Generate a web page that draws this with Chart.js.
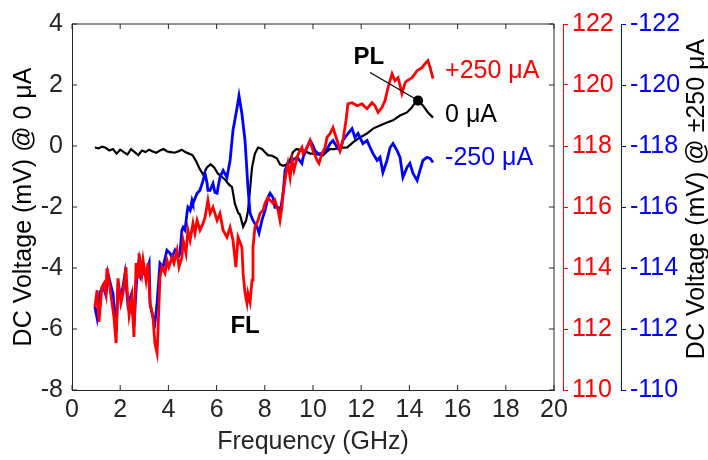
<!DOCTYPE html>
<html>
<head>
<meta charset="utf-8">
<script src="https://cdn.jsdelivr.net/npm/chart.js@4/dist/chart.umd.min.js"></script>
<style>
html,body{margin:0;padding:0;background:#fff;}
canvas{display:block;}
</style>
</head>
<body>
<canvas id="c" width="708" height="460" style="width:708px;height:460px"></canvas>
<script>
// ---- DATA ----
const xTicks = [0,2,4,6,8,10,12,14,16,18,20];
const leftTicks = [-8,-6,-4,-2,0,2,4];
const redTicks = [110,112,114,116,118,120,122];
const blueTicks = [-122,-120,-118,-116,-114,-112,-110];

// 0 uA (left axis, mV)
const blackFreq = [0.95,1.1,1.25,1.4,1.55,1.7,1.85,2.0,2.15,2.3,2.45,2.6,2.75,2.9,3.05,3.2,3.35,3.5,3.65,3.8,3.95,4.1,4.25,4.4,4.55,4.7,4.85,5.0,5.15,5.3,5.45,5.6,5.75,5.9,6.05,6.2,6.35,6.5,6.64,6.76,6.9,6.97,7.1,7.22,7.3,7.39,7.47,7.59,7.72,7.88,8.0,8.13,8.3,8.5,8.63,8.76,8.88,9.05,9.17,9.3,9.46,9.6,9.88,10.0,10.2,10.41,10.55,10.7,10.9,11.12,11.41,11.66,11.95,12.24,12.49,12.78,13.07,13.32,13.61,13.9,14.1,14.23,14.36,14.56,14.77,14.98];
const blackVolt = [-0.05,-0.08,-0.02,-0.06,-0.15,-0.1,-0.25,-0.12,-0.2,-0.28,-0.1,-0.2,-0.3,-0.15,-0.2,-0.12,-0.18,-0.22,-0.15,-0.1,-0.18,-0.2,-0.22,-0.18,-0.12,-0.2,-0.25,-0.3,-0.5,-0.75,-0.95,-0.7,-0.6,-0.7,-0.9,-1.0,-1.1,-1.25,-1.35,-1.9,-2.2,-2.25,-2.65,-2.45,-2.15,-1.4,-0.7,-0.25,-0.05,-0.1,-0.2,-0.3,-0.32,-0.4,-0.6,-0.65,-0.62,-0.45,-0.2,-0.1,-0.12,-0.15,-0.25,-0.25,-0.28,-0.31,-0.2,-0.1,-0.1,-0.05,-0.05,0.12,0.28,0.41,0.57,0.67,0.77,0.84,1.0,1.1,1.26,1.42,1.49,1.33,1.1,0.93];

// +250 uA (red axis, mV)
const redFreq = [0.95,1.04,1.12,1.24,1.33,1.41,1.45,1.54,1.66,1.74,1.83,1.91,2.03,2.12,2.24,2.28,2.37,2.49,2.57,2.66,2.74,2.78,2.9,2.95,3.07,3.15,3.24,3.36,3.44,3.53,3.57,3.65,3.73,3.86,3.94,4.02,4.15,4.23,4.36,4.44,4.56,4.61,4.73,4.81,4.9,5.02,5.1,5.19,5.31,5.44,5.52,5.64,5.73,5.85,6.02,6.14,6.27,6.43,6.56,6.68,6.8,6.89,7.05,7.1,7.18,7.26,7.3,7.39,7.47,7.51,7.59,7.72,7.8,7.93,8.01,8.13,8.22,8.34,8.42,8.55,8.63,8.71,8.76,8.88,8.96,9.05,9.13,9.21,9.34,9.42,9.54,9.59,9.75,9.88,10.0,10.17,10.25,10.37,10.5,10.58,10.71,10.83,11.0,11.12,11.24,11.37,11.45,11.62,11.83,12.03,12.24,12.45,12.57,12.7,12.86,12.99,13.11,13.28,13.4,13.53,13.69,13.82,13.9,14.11,14.32,14.52,14.65,14.77,14.86,14.98];
const redVolt = [112.72,113.27,112.23,113.37,113.5,113.17,113.99,113.53,112.85,112.39,111.54,113.66,112.85,113.17,114.03,113.37,112.45,113.04,111.74,114.16,113.7,114.48,113.83,114.25,113.6,114.16,112.85,112.39,111.54,111.21,111.96,113.7,114.03,113.83,114.25,114.03,114.35,114.16,114.58,114.03,114.35,114.91,114.48,115.24,114.91,115.47,115.14,115.56,115.24,115.47,115.66,116.22,115.79,115.99,115.56,115.79,115.24,115.01,115.33,114.91,114.03,115.01,114.68,113.83,113.17,112.85,113.17,112.88,113.6,114.68,115.33,115.56,115.79,115.89,116.12,116.31,116.22,116.12,116.22,115.89,115.56,115.99,116.45,117.1,117.43,116.97,117.53,117.2,117.63,117.79,117.95,117.75,117.95,118.18,117.85,117.53,117.43,117.75,117.95,118.28,118.41,118.6,118.18,117.85,118.18,118.84,119.38,119.42,119.32,119.38,119.22,119.42,119.32,119.1,119.26,119.49,119.91,120.37,120.14,120.24,119.72,120.07,120.14,120.24,120.47,120.57,120.7,120.8,120.57,120.21];

// -250 uA (blue axis, mV)
const blueFreq = [0.95,1.04,1.16,1.29,1.41,1.49,1.62,1.7,1.83,1.91,2.03,2.12,2.2,2.32,2.45,2.57,2.7,2.78,2.86,2.95,3.11,3.2,3.24,3.36,3.44,3.53,3.65,3.78,3.94,4.07,4.15,4.27,4.4,4.48,4.56,4.61,4.69,4.77,4.81,4.9,4.98,5.02,5.19,5.31,5.44,5.52,5.6,5.64,5.73,5.85,5.93,6.02,6.06,6.14,6.27,6.43,6.56,6.68,6.85,6.93,7.05,7.18,7.3,7.39,7.51,7.68,7.76,7.88,8.01,8.13,8.22,8.34,8.42,8.55,8.63,8.76,8.84,8.96,9.13,9.34,9.54,9.59,9.75,9.88,9.96,10.08,10.21,10.41,10.62,10.71,10.83,11.0,11.12,11.24,11.45,11.62,11.74,11.87,12.07,12.24,12.37,12.49,12.66,12.78,12.86,12.9,13.07,13.2,13.32,13.49,13.61,13.69,13.73,13.9,14.02,14.15,14.32,14.44,14.56,14.73,14.86,14.98];
const blueVolt = [-112.72,-112.36,-113.2,-113.4,-113.1,-113.83,-113.4,-113.17,-111.9,-113.4,-113.1,-113.4,-113.83,-112.8,-113.1,-112.1,-113.83,-114.25,-113.7,-113.83,-113.93,-114.16,-112.8,-112.39,-112.2,-112.85,-114.16,-114.03,-114.58,-114.48,-114.35,-114.58,-114.35,-114.48,-115.24,-115.33,-115.24,-115.79,-115.99,-115.89,-116.22,-116.12,-116.45,-116.55,-116.87,-117.1,-116.8,-116.55,-116.55,-116.77,-116.48,-116.45,-116.65,-116.97,-117.2,-116.97,-117.53,-118.51,-119.26,-119.65,-119.06,-118.18,-116.65,-115.79,-115.56,-115.34,-115.14,-115.56,-115.89,-116.31,-116.45,-116.31,-115.99,-115.99,-115.79,-116.45,-117.2,-117.43,-117.53,-117.63,-117.43,-117.63,-117.95,-118.18,-118.08,-117.85,-117.75,-117.75,-117.95,-118.08,-118.18,-117.95,-117.85,-118.18,-118.41,-118.57,-118.28,-118.41,-118.08,-118.18,-117.95,-117.75,-117.53,-117.63,-117.3,-117.13,-117.53,-117.95,-118.08,-117.85,-117.63,-117.2,-116.97,-117.3,-117.43,-117.1,-116.87,-117.2,-117.53,-117.63,-117.59,-117.46];

// annotations (data coordinates on the left axis)
const plPeakFreq = 14.36;
const plText = {text:'PL', x:12.32, y:2.9};
const plLineStart = {x:12.37, y:2.41};
const flText = {text:'FL', x:7.18, y:-5.9};
const seriesLabels = [
  {text:'+250 μA', x:15.48, y:2.47, color:'#ff0000'},
  {text:'0 μA', x:15.48, y:1.0, color:'#000000'},
  {text:'-250 μA', x:15.48, y:-0.41, color:'#0000ff'}
];

// ---- CHART ----
const FONT = '"Liberation Sans", Arial, Helvetica, sans-serif';
const FS = 25;
const AX = '#262626';
const pts = (xs, ys) => xs.map((x, i) => ({x: x, y: ys[i]}));
const plIndex = blackFreq.indexOf(plPeakFreq);
const fixTicks = arr => (s => { s.ticks = arr.map(v => ({value: v})); });

const overlay = {
  id: 'overlay',
  afterDraw(chart) {
    const ctx = chart.ctx;
    const a = chart.chartArea;
    const xs = chart.scales.x, ys = chart.scales.y;
    ctx.save();
    // box + inward ticks
    ctx.strokeStyle = AX;
    ctx.lineWidth = 1;
    ctx.beginPath();
    ctx.moveTo(a.left, a.top); ctx.lineTo(a.right, a.top);
    ctx.lineTo(a.right, a.bottom);
    xTicks.forEach(v => {
      const px = xs.getPixelForValue(v);
      ctx.moveTo(px, a.bottom); ctx.lineTo(px, a.bottom - 5);
      ctx.moveTo(px, a.top); ctx.lineTo(px, a.top + 5);
    });
    leftTicks.forEach(v => {
      const py = ys.getPixelForValue(v);
      ctx.moveTo(a.left, py); ctx.lineTo(a.left + 5, py);
      ctx.moveTo(a.right, py); ctx.lineTo(a.right - 5, py);
    });
    ctx.stroke();

    // PL pointer
    ctx.strokeStyle = '#000';
    ctx.lineWidth = 1.3;
    ctx.beginPath();
    ctx.moveTo(xs.getPixelForValue(plLineStart.x), ys.getPixelForValue(plLineStart.y));
    ctx.lineTo(xs.getPixelForValue(plPeakFreq), ys.getPixelForValue(blackVolt[plIndex]));
    ctx.stroke();

    // annotation text
    ctx.textAlign = 'center';
    ctx.textBaseline = 'middle';
    ctx.fillStyle = '#000';
    ctx.font = 'bold 24px ' + FONT;
    [plText, flText].forEach(t => {
      ctx.fillText(t.text, xs.getPixelForValue(t.x), ys.getPixelForValue(t.y));
    });
    ctx.textAlign = 'left';
    ctx.font = '25px ' + FONT;
    seriesLabels.forEach(t => {
      ctx.fillStyle = t.color;
      ctx.fillText(t.text, xs.getPixelForValue(t.x), ys.getPixelForValue(t.y));
    });

    // right-hand axis title
    ctx.fillStyle = '#000';
    ctx.font = FS + 'px ' + FONT;
    ctx.translate(697, (a.top + a.bottom) / 2 - 8);
    ctx.rotate(-Math.PI / 2);
    ctx.textAlign = 'center';
    ctx.fillText('DC Voltage (mV) @ ±250 μA', 0, 0);
    ctx.restore();
  }
};

new Chart(document.getElementById('c'), {
  type: 'line',
  data: {
    datasets: [
      {label: '+250 μA', data: pts(redFreq, redVolt), yAxisID: 'yR', borderColor: '#ff0000', borderWidth: 2.8, pointRadius: 0, tension: 0, fill: false},
      {label: '-250 μA', data: pts(blueFreq, blueVolt), yAxisID: 'yB', borderColor: '#0000ff', borderWidth: 2.8, pointRadius: 0, tension: 0, fill: false},
      {label: '0 μA', data: pts(blackFreq, blackVolt), yAxisID: 'y', borderColor: '#000000', borderWidth: 2.2,
       pointRadius: c => c.dataIndex === plIndex ? 4 : 0, pointBackgroundColor: '#000', pointBorderColor: '#000', tension: 0, fill: false}
    ]
  },
  options: {
    responsive: false,
    devicePixelRatio: 1,
    animation: false,
    events: [],
    layout: {padding: {top: 23, left: 0, right: 0, bottom: 0}},
    plugins: {legend: {display: false}, tooltip: {enabled: false}},
    scales: {
      x: {
        type: 'linear', position: 'bottom', min: 0, max: 20,
        afterBuildTicks: fixTicks(xTicks),
        afterFit: s => { s.height = 70; },
        grid: {display: false, drawTicks: false},
        border: {display: true, color: AX, width: 1},
        ticks: {color: AX, font: {family: FONT, size: FS}, padding: 5, maxRotation: 0, autoSkip: false},
        title: {display: true, text: 'Frequency (GHz)', color: AX, font: {family: FONT, size: FS}, padding: {top: 0, bottom: 3}}
      },
      y: {
        type: 'linear', position: 'left', min: -8, max: 4,
        afterBuildTicks: fixTicks(leftTicks),
        afterFit: s => { s.width = 72; },
        grid: {display: false, drawTicks: false},
        border: {display: true, color: AX, width: 1},
        ticks: {color: AX, font: {family: FONT, size: FS}, padding: 9, autoSkip: false},
        title: {display: true, text: 'DC Voltage (mV) @ 0 μA', color: '#000', font: {family: FONT, size: FS}, padding: {top: 9, bottom: 0}}
      },
      spacer: {
        type: 'linear', position: 'right', display: true,
        afterFit: s => { s.width = 9; },
        grid: {display: false, drawTicks: false},
        border: {display: false},
        ticks: {display: false}
      },
      yR: {
        type: 'linear', position: 'right', min: 110, max: 122,
        afterBuildTicks: fixTicks(redTicks),
        afterFit: s => { s.width = 58; },
        grid: {display: true, drawOnChartArea: false, drawTicks: true, tickLength: 5, color: '#ff0000', lineWidth: 1},
        border: {display: true, color: '#ff0000', width: 1},
        ticks: {color: '#ff0000', font: {family: FONT, size: FS}, padding: 4, autoSkip: false}
      },
      yB: {
        type: 'linear', position: 'right', min: -122, max: -110, reverse: true,
        afterBuildTicks: fixTicks(blueTicks),
        afterFit: s => { s.width = 87; },
        grid: {display: true, drawOnChartArea: false, drawTicks: true, tickLength: 5, color: '#0000ff', lineWidth: 1},
        border: {display: true, color: '#0000ff', width: 1},
        ticks: {color: '#0000ff', font: {family: FONT, size: FS}, padding: 4, autoSkip: false}
      }
    }
  },
  plugins: [overlay]
});
</script>
</body>
</html>
